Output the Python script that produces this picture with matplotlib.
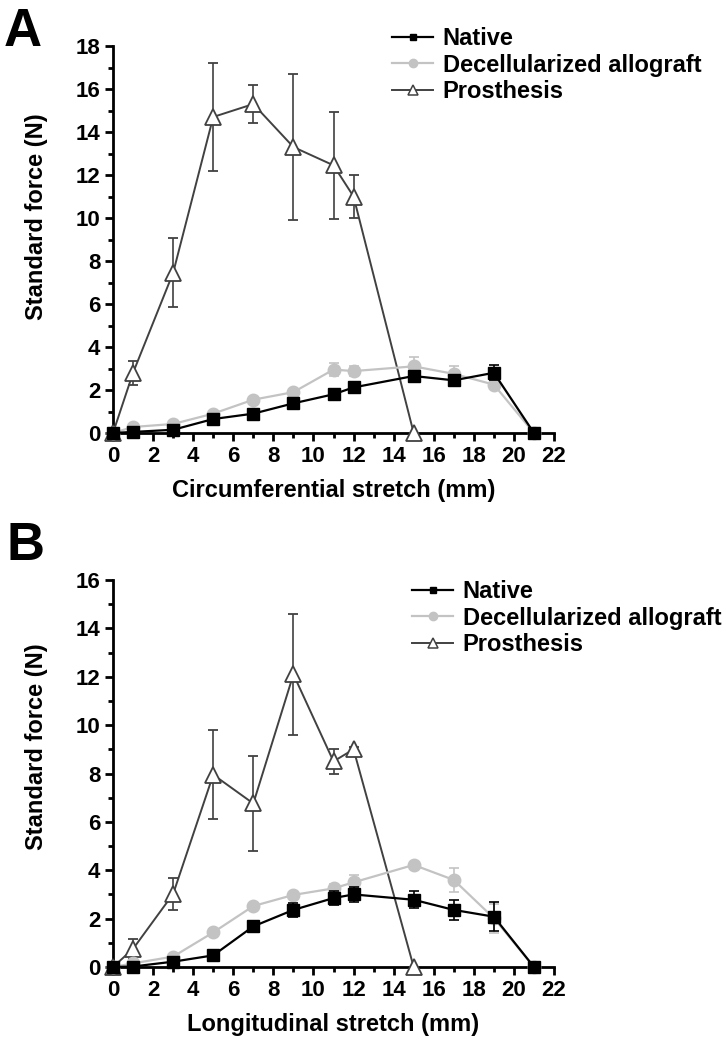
import numpy as np
import matplotlib
matplotlib.use("Agg")
import matplotlib.pyplot as plt
from matplotlib.ticker import MultipleLocator
from matplotlib.lines import Line2D

# ---------------- data ----------------
# Panel A: circumferential stretch
a_native_x = [0, 1, 3, 5, 7, 9, 11, 12, 15, 17, 19, 21]
a_native_y = [0, 0.05, 0.15, 0.65, 0.9, 1.38, 1.8, 2.12, 2.65, 2.45, 2.8, 0]
a_native_e = [0, 0, 0.05, 0.1, 0.1, 0.12, 0.12, 0.12, 0.2, 0.2, 0.35, 0]

a_decel_x = [0, 1, 3, 5, 7, 9, 11, 12, 15, 17, 19, 21]
a_decel_y = [0, 0.28, 0.42, 0.9, 1.55, 1.9, 2.95, 2.88, 3.1, 2.75, 2.25, 0]
a_decel_e = [0, 0, 0, 0.05, 0.05, 0.05, 0.3, 0.25, 0.42, 0.35, 0.1, 0]

a_pros_x = [0, 1, 3, 5, 7, 9, 11, 12, 15]
a_pros_y = [0, 2.8, 7.45, 14.7, 15.3, 13.3, 12.45, 11.0, 0]
a_pros_e = [0, 0.55, 1.6, 2.5, 0.87, 3.4, 2.5, 1.0, 0]

# Panel B: longitudinal stretch
b_native_x = [0, 1, 3, 5, 7, 9, 11, 12, 15, 17, 19, 21]
b_native_y = [0, 0.02, 0.22, 0.48, 1.68, 2.36, 2.85, 3.0, 2.78, 2.36, 2.08, 0]
b_native_e = [0, 0, 0.05, 0.05, 0.1, 0.3, 0.3, 0.3, 0.35, 0.4, 0.6, 0]

b_decel_x = [0, 1, 3, 5, 7, 9, 11, 12, 15, 17, 19, 21]
b_decel_y = [0, 0.15, 0.43, 1.43, 2.52, 2.98, 3.25, 3.5, 4.22, 3.6, 2.02, 0]
b_decel_e = [0, 0, 0, 0.05, 0.05, 0.05, 0.2, 0.3, 0.05, 0.5, 0.6, 0]

b_pros_x = [0, 1, 3, 5, 7, 9, 11, 12, 15]
b_pros_y = [0, 0.75, 3.02, 7.95, 6.76, 12.1, 8.5, 9.0, 0]
b_pros_e = [0, 0.4, 0.67, 1.85, 1.97, 2.5, 0.5, 0.1, 0]

series_labels = ["Native", "Decellularized allograft", "Prosthesis"]
x_labels = ["Circumferential stretch (mm)", "Longitudinal stretch (mm)"]
y_label = "Standard force (N)"
panel_letters = ["A", "B"]

# ---------------- style ----------------
plt.rcParams['font.family'] = ['Liberation Sans', 'DejaVu Sans']
plt.rcParams['font.weight'] = 'bold'

C_NAT = "#000000"
C_DEC = "#c3c3c3"
C_PRO = "#414141"

fig = plt.figure(figsize=(7.26, 10.49), dpi=100)

W, H = 726.0, 1049.0
axA = fig.add_axes([113 / W, 1 - 433 / H, (554 - 113) / W, (433 - 46) / H])
axB = fig.add_axes([113 / W, 1 - 967 / H, (554 - 113) / W, (967 - 580) / H])

panels = [
    dict(ax=axA, nat=(a_native_x, a_native_y, a_native_e), dec=(a_decel_x, a_decel_y, a_decel_e),
         pro=(a_pros_x, a_pros_y, a_pros_e), ymax=18, xl=x_labels[0],
         ylab_y=0.56, xlab_y=-0.118, leg=(392, 27)),
    dict(ax=axB, nat=(b_native_x, b_native_y, b_native_e), dec=(b_decel_x, b_decel_y, b_decel_e),
         pro=(b_pros_x, b_pros_y, b_pros_e), ymax=16, xl=x_labels[1],
         ylab_y=0.57, xlab_y=-0.118, leg=(412, 580)),
]

TICK_SIZE = 16
LABEL_SIZE = 17
LEG_SIZE = 17

for p in panels:
    ax = p['ax']
    nat, dec, pro = p['nat'], p['dec'], p['pro']
    ax.errorbar(pro[0], pro[1], yerr=pro[2], color=C_PRO, lw=1.4, elinewidth=1.2,
                capsize=3.5, capthick=1.2, marker='^', ms=11, mfc='white', mec=C_PRO,
                mew=1.3, clip_on=False, zorder=3)
    ax.errorbar(dec[0], dec[1], yerr=dec[2], color=C_DEC, lw=1.6, elinewidth=1.2,
                capsize=3.5, capthick=1.2, marker='o', ms=9, mfc=C_DEC, mec=C_DEC,
                clip_on=False, zorder=4)
    ax.errorbar(nat[0], nat[1], yerr=nat[2], color=C_NAT, lw=1.6, elinewidth=1.2,
                capsize=3.5, capthick=1.2, marker='s', ms=8, mfc=C_NAT, mec=C_NAT,
                clip_on=False, zorder=5)

    ax.set_xlim(0, 22)
    ax.set_ylim(0, p['ymax'])
    ax.xaxis.set_major_locator(MultipleLocator(2))
    ax.xaxis.set_minor_locator(MultipleLocator(1))
    ax.yaxis.set_major_locator(MultipleLocator(2))
    ax.yaxis.set_minor_locator(MultipleLocator(1))
    for s in ['top', 'right']:
        ax.spines[s].set_visible(False)
    for s in ['left', 'bottom']:
        ax.spines[s].set_linewidth(2.0)
    ax.tick_params(which='major', direction='out', length=6, width=2, pad=3,
                   labelsize=TICK_SIZE)
    ax.tick_params(which='minor', direction='out', length=3.5, width=2)
    for lab in ax.get_xticklabels() + ax.get_yticklabels():
        lab.set_fontweight('bold')
    ax.set_xlabel(p['xl'], fontsize=LABEL_SIZE, fontweight='bold')
    ax.set_ylabel(y_label, fontsize=LABEL_SIZE, fontweight='bold')
    ax.xaxis.set_label_coords(0.5, p['xlab_y'])
    ax.yaxis.set_label_coords(-0.148, p['ylab_y'])

    handles = [
        Line2D([], [], color=C_NAT, lw=1.6, marker='s', ms=5, mfc=C_NAT, mec=C_NAT),
        Line2D([], [], color=C_DEC, lw=1.6, marker='o', ms=6, mfc=C_DEC, mec=C_DEC),
        Line2D([], [], color=C_PRO, lw=1.4, marker='^', ms=7, mfc='white', mec=C_PRO, mew=1.1),
    ]
    lx, ly = p['leg']
    fig.legend(handles, series_labels, loc='upper left',
               bbox_to_anchor=(lx / W, 1 - ly / H), frameon=False,
               prop=dict(weight='bold', size=LEG_SIZE),
               handlelength=1.75, handletextpad=0.4, labelspacing=0.15,
               borderpad=0, borderaxespad=0)

fig.text(4 / W, 1 - 46 / H, panel_letters[0], fontsize=38, fontweight='bold')
fig.text(6 / W, 1 - 560 / H, panel_letters[1], fontsize=38, fontweight='bold')

fig.savefig("out.png", dpi=100)
